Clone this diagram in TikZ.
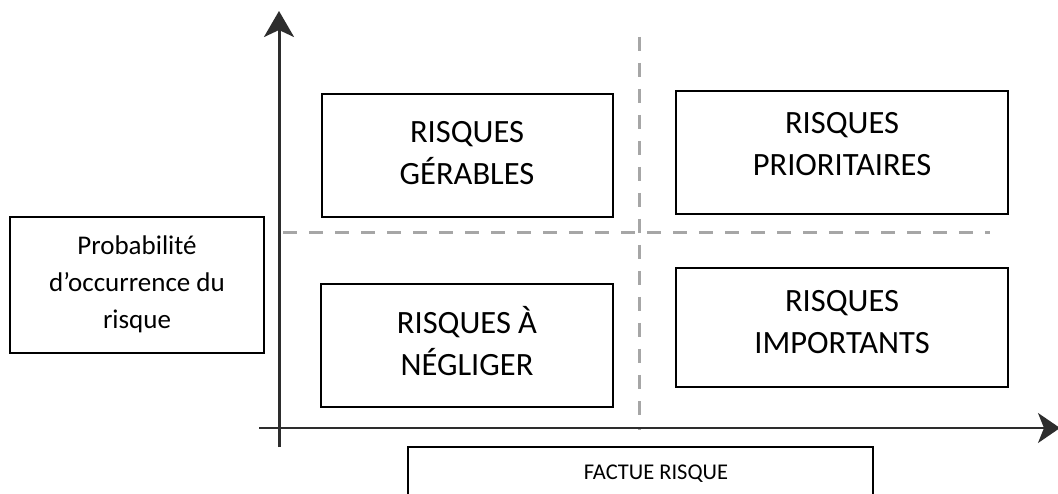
\documentclass[tikz,border=0pt]{standalone}
\usepackage{fontspec}
\setmainfont{Carlito}
\usetikzlibrary{arrows.meta}
\definecolor{axisgray}{RGB}{45,45,45}
\definecolor{dashgray}{RGB}{166,166,166}
\tikzset{
  quadbox/.style={draw=black, line width=2pt, inner sep=0pt},
  bigtext/.style={align=center, inner sep=0pt, font=\fontsize{32.5}{42}\selectfont},
  smalltext/.style={align=center, inner sep=0pt, font=\fontsize{27}{37}\selectfont},
  axisline/.style={draw=axisgray},
  divider/.style={draw=dashgray, line width=3pt, dash pattern=on 14pt off 12pt},
}
\begin{document}
\begin{tikzpicture}[x=1pt, y=-1pt]
  \clip (0,0) rectangle (1058,494);
  \fill[white] (0,0) rectangle (1058,494);

  % quadrant dividers
  \coordinate (hd1) at (283,233);
  \coordinate (hd2) at (990,233);
  \coordinate (vd1) at (639,37);
  \coordinate (vd2) at (639,430);
  \draw[divider] (hd1) -- (hd2);
  \draw[divider] (vd1) -- (vd2);

  % axes
  \coordinate (yb) at (279,447);
  \coordinate (yt) at (279,11);
  \coordinate (xl) at (259,428);
  \coordinate (xr) at (1060,428);
  \draw[axisline, line width=3pt, -{Stealth[length=26pt, width=30pt, inset=7pt]}] (yb) -- (yt);
  \draw[axisline, line width=2pt, -{Stealth[length=22pt, width=30pt, inset=6pt]}] (xl) -- (xr);

  % quadrant boxes
  \node[quadbox, minimum width=291pt, minimum height=123pt] (gb) at (467.5,155.5) {};
  \node[quadbox, minimum width=332pt, minimum height=123pt] (pb) at (842,152.5) {};
  \node[quadbox, minimum width=292pt, minimum height=123pt] (nb) at (467,345.5) {};
  \node[quadbox, minimum width=332pt, minimum height=119pt] (ib) at (842,327.5) {};

  \node[bigtext] (gt) at (467,153) {RISQUES\\GÉRABLES};
  \node[bigtext] (pt) at (842,144) {RISQUES\\PRIORITAIRES};
  \node[bigtext] (nt) at (467,341) {RISQUES À\\NÉGLIGER};
  \node[bigtext] (it) at (842,322) {RISQUES\\IMPORTANTS};

  % axis captions
  \node[quadbox, minimum width=254pt, minimum height=136pt] (yc) at (137,285) {};
  \node[smalltext] (yct) at (137,284) {Probabilité\\d’occurrence du\\risque};
  \node[quadbox, minimum width=465pt, minimum height=60pt] (xc) at (640.5,477) {};
  \node[font=\fontsize{22.5}{26}\selectfont, inner sep=0pt] (xct) at (656,474) {FACTUE RISQUE};
\end{tikzpicture}
\end{document}
